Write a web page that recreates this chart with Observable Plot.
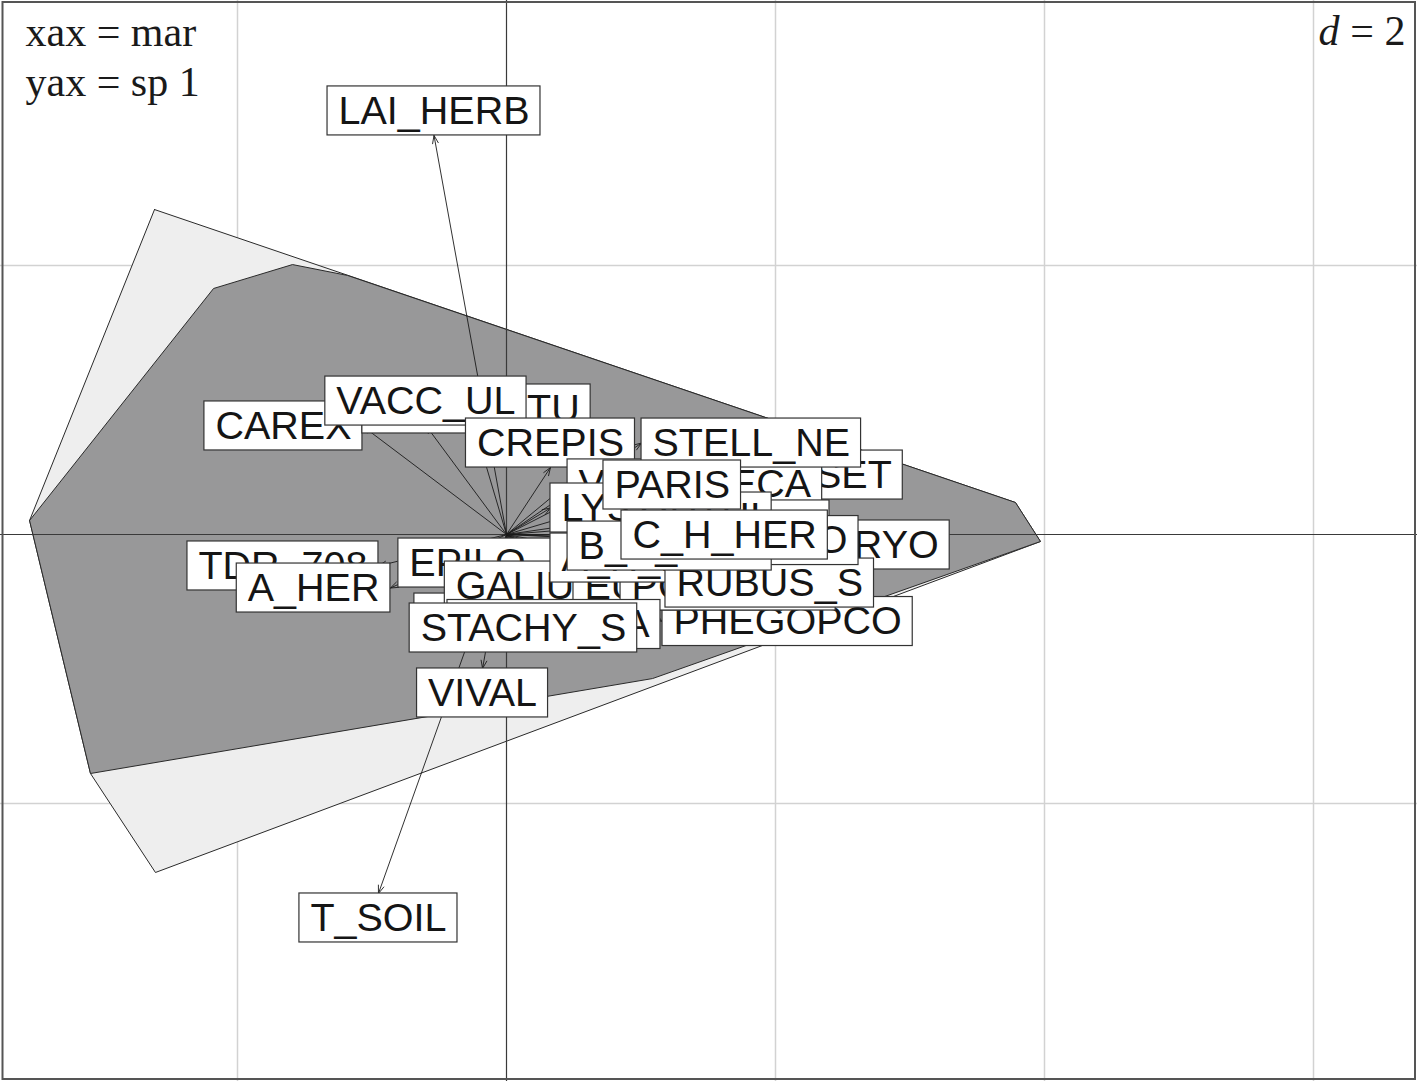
<!DOCTYPE html>
<html><head><meta charset="utf-8">
<script src="https://cdn.jsdelivr.net/npm/d3@7"></script>
<script src="https://cdn.jsdelivr.net/npm/@observablehq/plot@0.6"></script>
<style>html,body{margin:0;padding:0;background:#fff;} svg{display:block;}</style>
</head><body><div id="chart"></div>
<script>
// ---- data (drawing order, bottom to top) ----
const labels = ["CAREX","PLEUR_TU","VACC_UL","CREPIS","EQUISET","VERONIECA","STELL_NE","LYSIMA",
  "MAIA_BIF","ORTHI","PARIS","BRYO","PHEGOPCO","TDR_708","A_HER",
  "EPILO_AN","TRIEN_EU","GALIUM","EUPH_CY","POA_NEM","A_H_HER","RUBUS_S","SOLIDAGO","B_H_HER","C_H_HER",
  "OXALIS_A","STACHY_S","VIVAL","T_SOIL","LAI_HERB"];
const tipX = [-1.071,-0.223,-0.599,0.327,1.494,0.454,1.004,0.327,
  0.900,0.900,0.721,2.305,1.160,-0.952,-0.863,
  -0.004,0.123,0.186,0.498,0.848,0.327,1.182,0.920,0.454,0.855,
  0.353,0.126,-0.178,-0.952,-0.539];
const tipY = [0.807,0.751,0.810,0.498,0.442,0.376,0.680,0.197,
  0.071,0.130,0.368,-0.078,-0.647,-0.234,-0.398,
  -0.030,-0.439,-0.201,-0.383,-0.383,-0.175,-0.361,-0.045,-0.086,-0.004,
  -0.487,-0.513,-0.996,-2.669,2.967];
const lightHullX = [-2.617,-3.546,-3.093,-2.610,3.970,3.784];
const lightHullY = [2.416,0.104,-1.777,-2.513,-0.052,0.238];
const darkHullX = [-3.546,-2.178,-1.591,-1.182,3.784,3.970,1.086,-3.093];
const darkHullY = [0.104,1.829,2.007,1.926,0.238,-0.052,-1.071,-1.777];
const gridX = [-2, 2, 4, 6];
const gridY = [-2, 2];
const axisAt = [0];
const cornerLines = ["xax = mar", "yax = sp 1"];
const scaleLabel = "2";

// ---- layout ----
const W = 1417, H = 1081, originPx = [506, 534], unitPx = 134.5;
const xDomain = [-originPx[0] / unitPx, (W - originPx[0]) / unitPx];
const yDomain = [-(H - originPx[1]) / unitPx, originPx[1] / unitPx];
const FS = 39.5;
const SANS = "'Liberation Sans', Arial, Helvetica, sans-serif";
const SERIF = "'Liberation Serif', 'Times New Roman', Times, serif";
const ctx = document.createElement("canvas").getContext("2d");
ctx.font = `${FS}px 'Liberation Sans'`;
const halfH = 24.5 / unitPx;

const items = labels.map((lab, i) => {
  const tx = tipX[i], ty = tipY[i];
  const w = ctx.measureText(" " + lab + " ").width / unitPx;
  let cx = tx, cy = ty;
  if (tx > ty && tx > -ty) cx = tx + w / 2;
  else if (tx > ty && tx <= -ty) cy = ty - halfH;
  else if (tx <= ty && tx <= -ty) cx = tx - w / 2;
  else cy = ty + halfH;
  return {label: lab, tx, ty, cx, cy, x1: cx - w / 2, x2: cx + w / 2, y1: cy - halfH, y2: cy + halfH};
});

const closed = (xs, ys) => xs.concat([xs[0]]).map((x, i) => ({x, y: ys.concat([ys[0]])[i]}));
const corner = {fontFamily: SERIF, fontSize: 42, fill: "#1a1a1a", lineAnchor: "middle"};

const marks = [
  Plot.ruleX(gridX, {stroke: "#d2d2d2", strokeWidth: 1.5}),
  Plot.ruleY(gridY, {stroke: "#d2d2d2", strokeWidth: 1.5}),
  Plot.line(closed(lightHullX, lightHullY), {x: "x", y: "y", fill: "#eeeeee", stroke: "#2a2a2a", strokeWidth: 1}),
  Plot.line(closed(darkHullX, darkHullY), {x: "x", y: "y", fill: "#989899", stroke: "#2a2a2a", strokeWidth: 1}),
  Plot.ruleX(axisAt, {stroke: "#3a3a3a", strokeWidth: 1.2}),
  Plot.ruleY(axisAt, {stroke: "#3a3a3a", strokeWidth: 1.2}),
  Plot.arrow(items, {x1: () => 0, y1: () => 0, x2: "tx", y2: "ty", stroke: "#1a1a1a", strokeWidth: 0.9, headLength: 14, headAngle: 40}),
  ...items.flatMap(d => [
    Plot.rect([d], {x1: "x1", x2: "x2", y1: "y1", y2: "y2", fill: "white", stroke: "#333", strokeWidth: 1.2}),
    Plot.text([d], {x: "cx", y: "cy", text: "label", fontSize: FS, fontFamily: SANS, fill: "#151515"})
  ]),
  Plot.text([cornerLines[0]], {...corner, text: d => d, frameAnchor: "top-left", dx: 25, dy: 32, textAnchor: "start"}),
  Plot.text([cornerLines[1]], {...corner, text: d => d, frameAnchor: "top-left", dx: 25, dy: 82, textAnchor: "start"}),
  Plot.text([" = " + scaleLabel], {...corner, text: d => d, frameAnchor: "top-right", dx: -12, dy: 31, textAnchor: "end"}),
  Plot.text(["d"], {...corner, text: d => d, frameAnchor: "top-right", dx: -78, dy: 31, textAnchor: "end", fontStyle: "italic"}),
  Plot.frame({stroke: "#555", strokeWidth: 2, insetTop: 1.5, insetLeft: 2, insetRight: 2.5, insetBottom: 2.5})
];

const svg = Plot.plot({
  width: W, height: H, margin: 0,
  x: {domain: xDomain, axis: null},
  y: {domain: yDomain, axis: null},
  style: {background: "#fff", overflow: "visible"},
  marks
});
document.getElementById("chart").appendChild(svg);
</script>
</body></html>
